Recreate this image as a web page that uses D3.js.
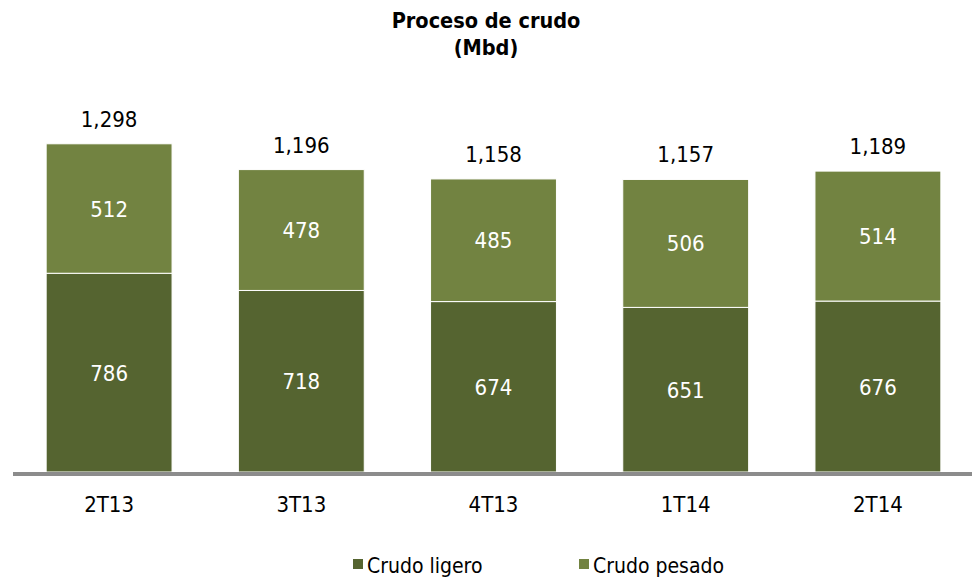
<!DOCTYPE html>
<html>
<head>
<meta charset="utf-8">
<script src="https://cdn.jsdelivr.net/npm/d3@7"></script>
<style>
  html, body { margin: 0; padding: 0; background: #fff; }
  svg { display: block; font-family: "DejaVu Sans Condensed", "DejaVu Sans", sans-serif; }
</style>
</head>
<body>
<svg id="chart" width="972" height="579"></svg>
<script>
// data
const periods = ["2T13", "3T13", "4T13", "1T14", "2T14"];
const ligero = [786, 718, 674, 651, 676];
const pesado = [512, 478, 485, 506, 514];
const totals = [1298, 1196, 1158, 1157, 1189];
const seriesNames = ["Crudo ligero", "Crudo pesado"];
const colors = ["#556430", "#728341"];

const width = 972, height = 579;
const svg = d3.select("#chart");

const x = d3.scaleBand()
	.domain(periods)
	.range([13, 974])
	.paddingInner(0.345)
	.paddingOuter(0.1725);

const y = d3.scaleLinear()
	.domain([0, 1400])
	.range([472, 118]);

// stack the two series
const rows = periods.map((p, i) => ({ period: p, ligero: ligero[i], pesado: pesado[i], total: totals[i] }));
const stack = d3.stack().keys(["ligero", "pesado"])(rows);

// title
svg.append("text")
	.attr("x", 486).attr("y", 28)
	.attr("text-anchor", "middle")
	.style("font-weight", "bold").style("font-size", "21.5px")
	.text("Proceso de crudo");
svg.append("text")
	.attr("x", 486).attr("y", 55)
	.attr("text-anchor", "middle")
	.style("font-weight", "bold").style("font-size", "21.5px")
	.text("(Mbd)");

// bars
const layers = svg.selectAll("g.layer")
	.data(stack).enter()
	.append("g")
	.attr("class", "layer")
	.attr("fill", (d, i) => colors[i]);

layers.selectAll("rect")
	.data(d => d).enter()
	.append("rect")
	.attr("x", d => x(d.data.period))
	.attr("width", x.bandwidth())
	.attr("y", d => y(d[1]))
	.attr("height", d => y(d[0]) - y(d[1]))
	.attr("stroke", "#fff")
	.attr("stroke-width", 1);

// segment labels
layers.selectAll("text")
	.data(d => d.map(s => ({ s, key: d.key }))).enter()
	.append("text")
	.attr("x", d => x(d.s.data.period) + x.bandwidth() / 2)
	.attr("y", d => (y(d.s[0]) + y(d.s[1])) / 2 + 8)
	.attr("text-anchor", "middle")
	.attr("fill", "#fff")
	.style("font-size", "22px")
	.text(d => d.s.data[d.key]);

// totals
svg.selectAll("text.total")
	.data(rows).enter()
	.append("text")
	.attr("class", "total")
	.attr("x", d => x(d.period) + x.bandwidth() / 2)
	.attr("y", d => y(d.total) - 17)
	.attr("text-anchor", "middle")
	.style("font-size", "22px")
	.text(d => d3.format(",")(d.total));

// baseline
svg.append("line")
	.attr("x1", 13).attr("x2", 972)
	.attr("y1", y(0) + 2).attr("y2", y(0) + 2)
	.attr("stroke", "#8c8c8c")
	.attr("stroke-width", 4);

// category axis labels
const xAxis = svg.append("g")
	.attr("transform", `translate(0,${y(0) + 4})`)
	.call(d3.axisBottom(x).tickSize(0).tickPadding(20));
xAxis.select(".domain").remove();
xAxis.selectAll("text")
	.attr("fill", "#000")
	.style("font-size", "22px")
	.style("font-family", "\"DejaVu Sans Condensed\", \"DejaVu Sans\", sans-serif");

// legend
const legendX = [353, 579];
const legend = svg.selectAll("g.legend")
	.data(seriesNames).enter()
	.append("g")
	.attr("class", "legend")
	.attr("transform", (d, i) => `translate(${legendX[i]},559)`);
legend.append("rect")
	.attr("width", 10).attr("height", 10)
	.attr("fill", (d, i) => colors[i]);
legend.append("text")
	.attr("x", 14).attr("y", 14)
	.style("font-size", "21px")
	.text(d => d);
</script>
</body>
</html>
